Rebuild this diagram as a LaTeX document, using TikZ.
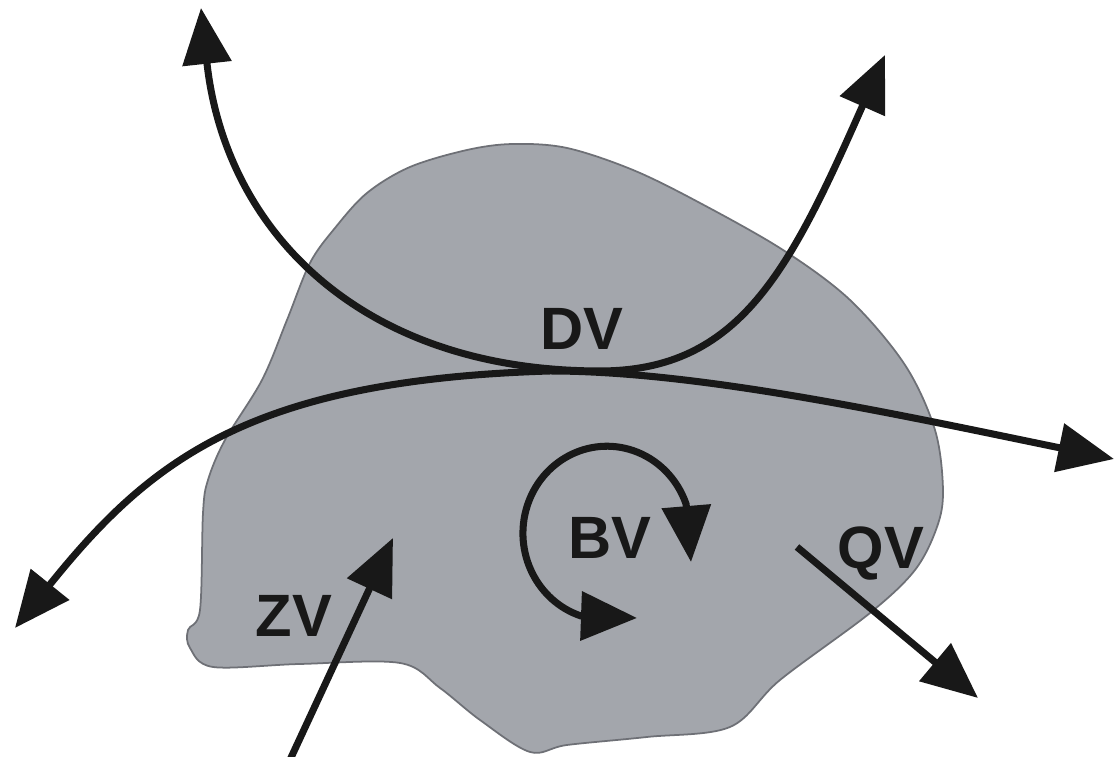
\documentclass[tikz,border=0pt]{standalone}
\usepackage{fontspec}
\newfontfamily\lblfont{Liberation Sans}
\usepackage{xcolor}
\usepackage{tikz}
\usetikzlibrary{arrows.meta}

\definecolor{blobgray}{RGB}{163,166,172}
\definecolor{blobedge}{RGB}{110,112,118}
\definecolor{flowink}{RGB}{24,24,24}

\begin{document}
\begin{tikzpicture}[
		flow/.style={draw=flowink, line width=2pt, -{Triangle[length=0.56cm,width=0.48cm]}},
		dflow/.style={flow, {Triangle[length=0.56cm,width=0.48cm]}-{Triangle[length=0.56cm,width=0.48cm]}},
		lbl/.style={font=\lblfont\bfseries\fontsize{17}{20}\selectfont, text=flowink, inner sep=0pt, text depth=0pt}]
			\useasboundingbox (0,0) rectangle (11.16,7.57);
			\fill[white] (0,0) rectangle (11.16,7.57);
			\draw[fill=blobgray, draw=blobedge, line width=0.5pt] plot[smooth cycle, tension=0.55] coordinates {
				(5.13,6.13) (5.67,6.09) (6.33,5.87) (7.00,5.54) (7.83,5.07) (8.50,4.57) (9.05,3.92) (9.35,3.27)
				(9.43,2.67) (9.37,2.30) (9.15,1.87) (8.70,1.44) (7.80,0.77) (7.30,0.30) (6.47,0.20) (5.67,0.12)
				(5.30,0.05) (4.80,0.37) (4.40,0.69) (4.00,0.94) (3.00,0.93) (2.13,0.90) (1.90,1.09) (1.88,1.27)
				(2.00,1.47) (2.03,2.44) (2.08,2.77) (2.25,3.17) (2.62,3.77) (2.87,4.37) (3.10,4.94) (3.35,5.29)
				(3.67,5.64) (4.10,5.90) (4.67,6.07)};
			\node [lbl] (dv) at (5.82,4.28) {DV};
			\node [lbl] (bv) at (6.10,2.19) {BV};
			\node [lbl] (zv) at (2.94,1.41) {ZV};
			\node [lbl] (qv) at (8.81,2.09) {QV};
			\coordinate (dvl) at (2.01,7.49);
			\coordinate (dvm) at (6.00,3.86);
			\coordinate (dvr) at (8.85,7.02);
			\coordinate (lwl) at (0.15,1.29);
			\coordinate (lwm) at (5.50,3.86);
			\coordinate (lwr) at (11.14,2.98);
			\coordinate (bvs) at (6.37,1.39);
			\coordinate (bve) at (6.91,1.95);
			\coordinate (zvt) at (2.89,-0.05);
			\coordinate (zvh) at (3.93,2.19);
			\coordinate (qvt) at (7.97,2.10);
			\coordinate (qvh) at (9.78,0.59);
			\draw [dflow] (dvl) .. controls (2.25,5.27) and (3.60,3.86) .. (dvm) .. controls (7.40,3.86) and (7.90,4.87) .. (dvr);
			\draw [dflow] (lwl) .. controls (1.50,2.97) and (2.50,3.77) .. (lwm) .. controls (7.00,3.86) and (9.00,3.42) .. (lwr);
			\draw [dflow] (bvs) -- ++(-0.56,0.02) arc[start angle=252, end angle=19.5, x radius=0.84cm, y radius=0.87cm] -- (bve);
			\draw [flow] (zvt) -- (zvh);
			\draw [flow] (qvt) -- (qvh);
		\end{tikzpicture}
\end{document}
